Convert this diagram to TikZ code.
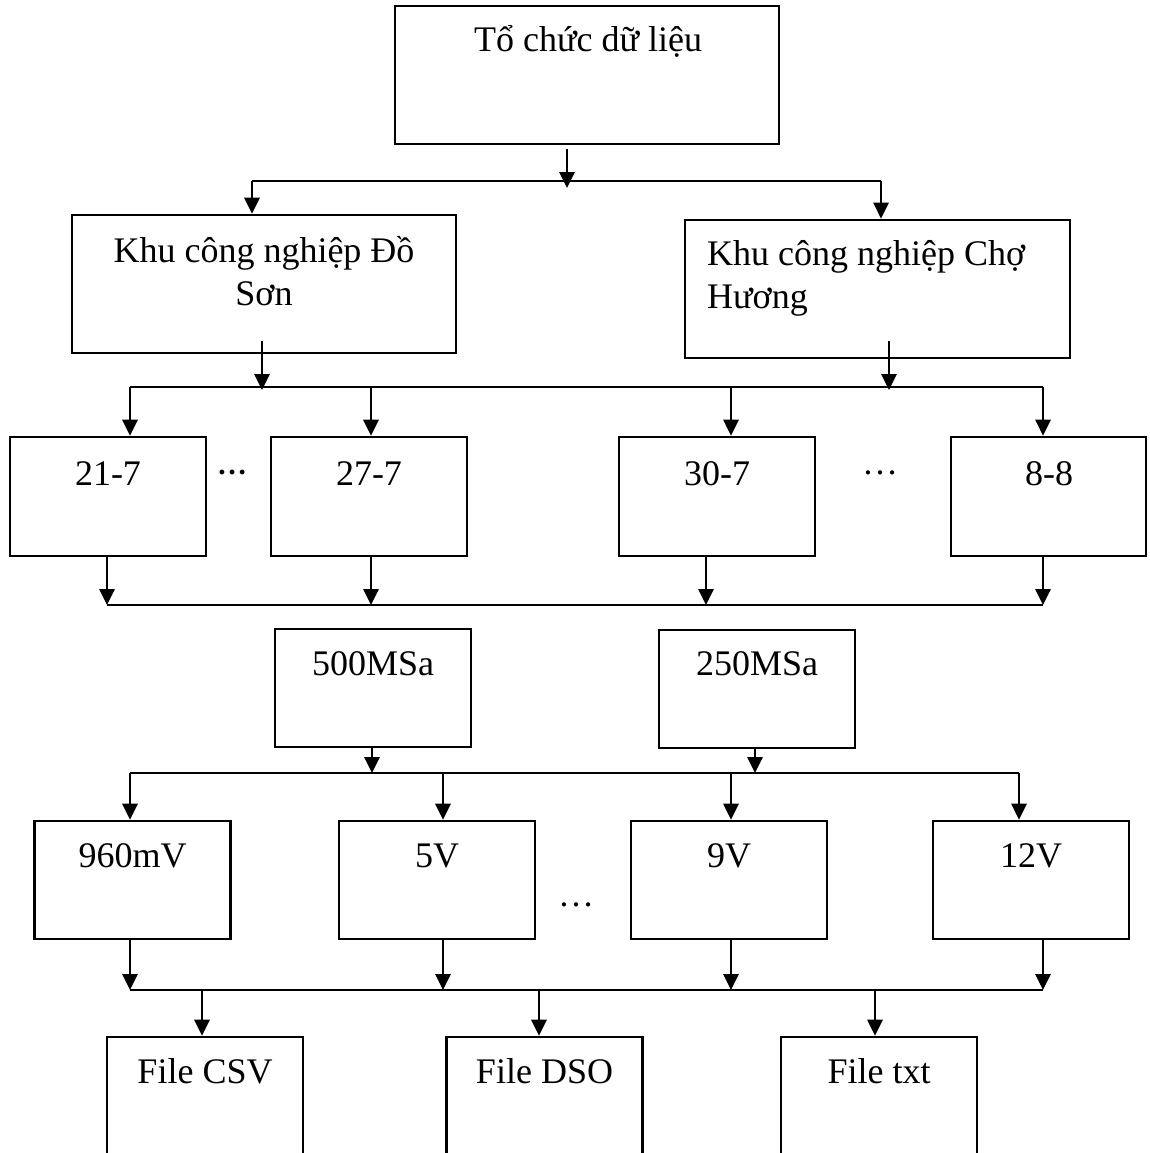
\documentclass[tikz,border=0pt]{standalone}
\usepackage{fontspec}
\setmainfont{Liberation Serif}
\usetikzlibrary{arrows.meta}
\begin{document}
\begin{tikzpicture}[x=1pt,y=-1pt,
  box/.style={draw, line width=2.6pt, rectangle, inner sep=0pt},
  wbox/.style={box, minimum width=384pt, minimum height=138pt},
  sbox/.style={box, minimum width=196pt, minimum height=118pt},
  lbl/.style={anchor=base, inner sep=0pt, font=\fontsize{36}{43}\selectfont},
  dots/.style={anchor=base, inner sep=0pt, font=\fontsize{36}{43}\selectfont},
  bus/.style={line width=2.3pt},
  arr/.style={line width=2.8pt, -{Triangle[length=16pt,width=15pt]}}]
\useasboundingbox (0,0) rectangle (1149,1153);
\fill[white] (0,0) rectangle (1149,1153);

% ---- boxes ----
\node[wbox] (top) at (587,75) {};
\node[wbox] (kds) at (264,284) {};
\node[wbox, minimum width=385pt] (kch) at (877.5,289) {};

\node[sbox, minimum height=119pt] (d1) at (108,496.5) {};
\node[sbox, minimum height=119pt] (d2) at (369,496.5) {};
\node[sbox, minimum height=119pt] (d3) at (717,496.5) {};
\node[sbox, minimum height=119pt, minimum width=195pt] (d4) at (1048.5,496.5) {};

\node[sbox] (s1) at (373,688) {};
\node[sbox] (s2) at (757,689) {};

\node[sbox] (v1) at (132.5,880) {};
\node[sbox] (v2) at (437,880) {};
\node[sbox] (v3) at (729,880) {};
\node[sbox] (v4) at (1031,880) {};

\node[sbox, minimum height=138pt] (f1) at (205,1106) {};
\node[sbox, minimum height=138pt] (f2) at (544.5,1106) {};
\node[sbox, minimum height=138pt] (f3) at (879,1106) {};

% ---- labels ----
\node[lbl] (tTop) at (588,52) {Tổ chức dữ liệu};
\node[lbl] (tKdsA) at (264,262) {Khu công nghiệp Đồ};
\node[lbl] (tKdsB) at (264,305) {Sơn};
\node[lbl, anchor=base west] (tKchA) at (707,265) {Khu công nghiệp Chợ};
\node[lbl, anchor=base west] (tKchB) at (707,308) {Hương};

\node[lbl] (tD1) at (108,485) {21-7};
\node[lbl] (tD2) at (369,485) {27-7};
\node[lbl] (tD3) at (717,485) {30-7};
\node[lbl] (tD4) at (1049,485) {8-8};

\node[lbl] (tS1) at (373,675) {500MSa};
\node[lbl] (tS2) at (757,675) {250MSa};

\node[lbl] (tV1) at (132.5,867) {960mV};
\node[lbl] (tV2) at (437,867) {5V};
\node[lbl] (tV3) at (729,867) {9V};
\node[lbl] (tV4) at (1031,867) {12V};

\node[lbl] (tF1) at (205,1083) {File CSV};
\node[lbl] (tF2) at (544.5,1083) {File DSO};
\node[lbl] (tF3) at (879,1083) {File txt};

\node[dots, font=\fontsize{30}{32}\selectfont\bfseries] (e1) at (232,474) {…};
\node[dots] (e2) at (880,474) {…};
\node[dots] (e3) at (576,906) {…};

% ---- junction points on the buses ----
\coordinate (j1L) at (252,181);  \coordinate (j1M) at (567,181);  \coordinate (j1R) at (881,181);
\coordinate (j2L) at (130,387);  \coordinate (j2a) at (262,387);  \coordinate (j2b) at (371,387);
\coordinate (j2c) at (731,387);  \coordinate (j2d) at (889,387);  \coordinate (j2R) at (1043,387);
\coordinate (j3L) at (107,605);  \coordinate (j3b) at (371,605);  \coordinate (j3c) at (706,605);
\coordinate (j3R) at (1043,605);
\coordinate (j4L) at (130,773);  \coordinate (j4a) at (372,773);  \coordinate (j4b) at (443,773);
\coordinate (j4c) at (731,773);  \coordinate (j4d) at (755,773);  \coordinate (j4R) at (1019,773);
\coordinate (j5L) at (130,990);  \coordinate (j5a) at (202,990);  \coordinate (j5b) at (443,990);
\coordinate (j5c) at (539,990);  \coordinate (j5d) at (731,990);  \coordinate (j5e) at (875,990);
\coordinate (j5R) at (1043,990);

% ---- buses ----
\draw[bus] (j1L) -- (j1R);
\draw[bus] (j2L) -- (j2R);
\draw[bus] (j3L) -- (j3R);
\draw[bus] (j4L) -- (j4R);
\draw[bus] (j5L) -- (j5R);

% ---- level 1 ----
\draw[arr, shorten <=4pt, shorten >=-7pt] (top.south -| j1M) -- (j1M);
\draw[arr] (j1L) -- (kds.north -| j1L);
\draw[arr] (j1R) -- (kch.north -| j1R);

% ---- level 2 ----
\draw[arr, shorten <=-13pt, shorten >=-3pt] (kds.south -| j2a) -- (j2a);
\draw[arr, shorten <=-18pt, shorten >=-3pt] (kch.south -| j2d) -- (j2d);
\draw[arr] (j2L) -- (d1.north -| j2L);
\draw[arr] (j2b) -- (d2.north -| j2b);
\draw[arr] (j2c) -- (d3.north -| j2c);
\draw[arr] (j2R) -- (d4.north -| j2R);

% ---- level 3 ----
\draw[arr] (d1.south -| j3L) -- (j3L);
\draw[arr] (d2.south -| j3b) -- (j3b);
\draw[arr] (d3.south -| j3c) -- (j3c);
\draw[arr] (d4.south -| j3R) -- (j3R);

% ---- level 4 ----
\draw[arr] (s1.south -| j4a) -- (j4a);
\draw[arr] (s2.south -| j4d) -- (j4d);
\draw[arr] (j4L) -- (v1.north -| j4L);
\draw[arr] (j4b) -- (v2.north -| j4b);
\draw[arr] (j4c) -- (v3.north -| j4c);
\draw[arr] (j4R) -- (v4.north -| j4R);

% ---- level 5 ----
\draw[arr] (v1.south -| j5L) -- (j5L);
\draw[arr] (v2.south -| j5b) -- (j5b);
\draw[arr] (v3.south -| j5d) -- (j5d);
\draw[arr] (v4.south -| j5R) -- (j5R);
\draw[arr] (j5a) -- (f1.north -| j5a);
\draw[arr] (j5c) -- (f2.north -| j5c);
\draw[arr] (j5e) -- (f3.north -| j5e);
\end{tikzpicture}
\end{document}
